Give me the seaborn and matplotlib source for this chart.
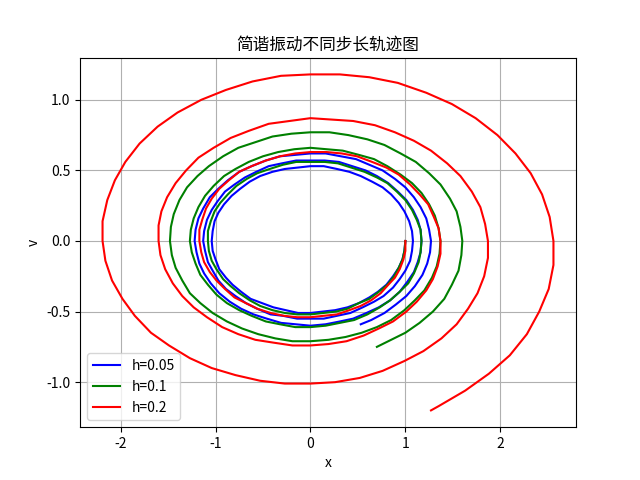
import matplotlib
matplotlib.use("Agg")
import matplotlib.pyplot as plt
import seaborn as sns

# phase-space trajectories (x, v), one point every ~7.5 degrees,
# one source line per half turn
blue_x = [1.00, 0.99, 0.97, 0.93, 0.87, 0.80, 0.71, 0.62, 0.51, 0.39, 0.26, 0.13, 0.00, -0.13, -0.26, -0.39, -0.51, -0.63, -0.73, -0.82, -0.89, -0.96, -1.00, -1.03,
          -1.04, -1.03, -1.01, -0.97, -0.91, -0.83, -0.74, -0.64, -0.53, -0.40, -0.27, -0.14, 0.00, 0.14, 0.28, 0.41, 0.53, 0.65, 0.76, 0.85, 0.93, 0.99, 1.04, 1.07,
          1.08, 1.07, 1.05, 1.00, 0.94, 0.87, 0.77, 0.67, 0.55, 0.42, 0.28, 0.14, 0.00, -0.14, -0.29, -0.42, -0.56, -0.68, -0.79, -0.89, -0.97, -1.03, -1.08, -1.11,
          -1.13, -1.12, -1.09, -1.04, -0.98, -0.90, -0.80, -0.69, -0.57, -0.44, -0.30, -0.15, 0.00, 0.15, 0.30, 0.44, 0.58, 0.70, 0.82, 0.92, 1.01, 1.08, 1.13, 1.16,
          1.17, 1.16, 1.13, 1.09, 1.02, 0.94, 0.84, 0.72, 0.59, 0.45, 0.31, 0.16, 0.00, -0.16, -0.31, -0.46, -0.60, -0.73, -0.85, -0.96, -1.05, -1.12, -1.17, -1.20,
          -1.22, -1.21, -1.18, -1.13, -1.06, -0.97, -0.87, -0.75, -0.62, -0.47, -0.32, -0.16, 0.00, 0.16, 0.32, 0.48, 0.62, 0.76, 0.89, 1.00, 1.09, 1.16, 1.22, 1.25,
          1.27, 1.26, 1.23, 1.18, 1.10, 1.01, 0.90, 0.78, 0.64, 0.53]
blue_v = [0.00, -0.07, -0.13, -0.19, -0.25, -0.31, -0.36, -0.40, -0.44, -0.47, -0.49, -0.50, -0.51, -0.51, -0.49, -0.47, -0.44, -0.41, -0.36, -0.31, -0.26, -0.20, -0.13, -0.07,
          0.00, 0.07, 0.14, 0.20, 0.26, 0.32, 0.37, 0.42, 0.46, 0.49, 0.51, 0.52, 0.53, 0.53, 0.51, 0.49, 0.46, 0.42, 0.38, 0.33, 0.27, 0.21, 0.14, 0.07,
          0.00, -0.07, -0.14, -0.21, -0.27, -0.33, -0.39, -0.43, -0.47, -0.51, -0.53, -0.55, -0.55, -0.55, -0.53, -0.52, -0.48, -0.44, -0.39, -0.34, -0.28, -0.21, -0.15, -0.07,
          0.00, 0.07, 0.15, 0.22, 0.28, 0.35, 0.40, 0.45, 0.49, 0.53, 0.55, 0.57, 0.57, 0.57, 0.56, 0.53, 0.50, 0.46, 0.41, 0.35, 0.29, 0.22, 0.15, 0.08,
          0.00, -0.08, -0.15, -0.22, -0.29, -0.36, -0.42, -0.47, -0.51, -0.55, -0.57, -0.59, -0.60, -0.59, -0.58, -0.55, -0.52, -0.48, -0.43, -0.37, -0.30, -0.23, -0.16, -0.08,
          0.00, 0.08, 0.16, 0.23, 0.31, 0.37, 0.43, 0.49, 0.53, 0.57, 0.60, 0.61, 0.62, 0.62, 0.60, 0.58, 0.54, 0.50, 0.44, 0.38, 0.31, 0.24, 0.16, 0.08,
          0.00, -0.08, -0.16, -0.24, -0.32, -0.39, -0.45, -0.51, -0.56, -0.59]

green_x = [1.00, 0.99, 0.97, 0.93, 0.88, 0.81, 0.72, 0.62, 0.51, 0.39, 0.27, 0.14, 0.00, -0.14, -0.27, -0.40, -0.53, -0.64, -0.75, -0.84, -0.92, -0.99, -1.04, -1.07,
           -1.08, -1.08, -1.05, -1.01, -0.95, -0.87, -0.78, -0.67, -0.56, -0.43, -0.29, -0.15, 0.00, 0.15, 0.29, 0.43, 0.57, 0.70, 0.81, 0.91, 1.00, 1.07, 1.12, 1.16,
           1.17, 1.16, 1.14, 1.09, 1.03, 0.94, 0.84, 0.73, 0.60, 0.46, 0.31, 0.16, 0.00, -0.16, -0.32, -0.47, -0.62, -0.75, -0.88, -0.99, -1.08, -1.16, -1.21, -1.25,
           -1.27, -1.26, -1.23, -1.18, -1.11, -1.02, -0.91, -0.79, -0.65, -0.50, -0.34, -0.17, 0.00, 0.17, 0.34, 0.51, 0.67, 0.81, 0.95, 1.07, 1.17, 1.25, 1.31, 1.35,
           1.37, 1.36, 1.33, 1.28, 1.20, 1.10, 0.99, 0.85, 0.70, 0.54, 0.37, 0.19, 0.00, -0.19, -0.37, -0.55, -0.72, -0.88, -1.03, -1.16, -1.27, -1.35, -1.42, -1.46,
           -1.48, -1.47, -1.44, -1.38, -1.30, -1.19, -1.07, -0.92, -0.76, -0.58, -0.40, -0.20, 0.00, 0.20, 0.40, 0.60, 0.78, 0.95, 1.11, 1.25, 1.37, 1.47, 1.54, 1.58,
           1.60, 1.59, 1.56, 1.49, 1.41, 1.29, 1.15, 1.00, 0.82, 0.70]
green_v = [0.00, -0.07, -0.13, -0.19, -0.25, -0.31, -0.36, -0.41, -0.44, -0.48, -0.50, -0.51, -0.52, -0.52, -0.51, -0.49, -0.46, -0.42, -0.37, -0.32, -0.27, -0.20, -0.14, -0.07,
           0.00, 0.07, 0.14, 0.21, 0.27, 0.33, 0.39, 0.44, 0.48, 0.51, 0.54, 0.56, 0.56, 0.56, 0.55, 0.52, 0.49, 0.45, 0.41, 0.35, 0.29, 0.22, 0.15, 0.08,
           0.00, -0.08, -0.15, -0.23, -0.30, -0.36, -0.42, -0.47, -0.52, -0.56, -0.58, -0.60, -0.61, -0.61, -0.59, -0.57, -0.53, -0.49, -0.44, -0.38, -0.31, -0.24, -0.16, -0.08,
           0.00, 0.08, 0.16, 0.24, 0.32, 0.39, 0.46, 0.51, 0.56, 0.60, 0.63, 0.65, 0.66, 0.65, 0.64, 0.61, 0.58, 0.53, 0.47, 0.41, 0.34, 0.26, 0.18, 0.09,
           0.00, -0.09, -0.18, -0.26, -0.35, -0.42, -0.49, -0.56, -0.61, -0.65, -0.68, -0.70, -0.71, -0.71, -0.69, -0.66, -0.62, -0.57, -0.51, -0.44, -0.37, -0.28, -0.19, -0.10,
           0.00, 0.10, 0.19, 0.29, 0.38, 0.46, 0.53, 0.60, 0.66, 0.70, 0.74, 0.76, 0.77, 0.77, 0.75, 0.72, 0.68, 0.62, 0.56, 0.48, 0.40, 0.30, 0.21, 0.10,
           0.00, -0.10, -0.21, -0.31, -0.41, -0.50, -0.58, -0.65, -0.71, -0.75]

red_x = [1.00, 1.00, 0.98, 0.94, 0.89, 0.82, 0.74, 0.64, 0.53, 0.41, 0.28, 0.14, 0.00, -0.14, -0.28, -0.42, -0.56, -0.68, -0.80, -0.90, -0.99, -1.06, -1.12, -1.15,
         -1.17, -1.17, -1.14, -1.10, -1.04, -0.96, -0.86, -0.75, -0.62, -0.47, -0.32, -0.16, 0.00, 0.17, 0.33, 0.49, 0.65, 0.80, 0.93, 1.05, 1.15, 1.24, 1.30, 1.35,
         1.37, 1.37, 1.34, 1.29, 1.22, 1.12, 1.01, 0.87, 0.72, 0.56, 0.38, 0.19, 0.00, -0.19, -0.39, -0.58, -0.76, -0.93, -1.09, -1.23, -1.35, -1.45, -1.53, -1.58,
         -1.60, -1.60, -1.57, -1.51, -1.42, -1.31, -1.18, -1.02, -0.84, -0.65, -0.44, -0.22, 0.00, 0.23, 0.45, 0.68, 0.89, 1.09, 1.27, 1.44, 1.58, 1.70, 1.79, 1.84,
         1.87, 1.87, 1.83, 1.76, 1.66, 1.54, 1.38, 1.19, 0.99, 0.76, 0.52, 0.26, 0.00, -0.27, -0.53, -0.79, -1.04, -1.27, -1.49, -1.68, -1.85, -1.98, -2.09, -2.16,
         -2.19, -2.19, -2.14, -2.06, -1.95, -1.80, -1.61, -1.40, -1.15, -0.89, -0.61, -0.31, 0.00, 0.31, 0.62, 0.92, 1.22, 1.49, 1.74, 1.97, 2.16, 2.32, 2.44, 2.52,
         2.56, 2.56, 2.51, 2.41, 2.28, 2.10, 1.88, 1.63, 1.35, 1.27]
red_v = [0.00, -0.07, -0.13, -0.20, -0.26, -0.31, -0.37, -0.42, -0.46, -0.49, -0.52, -0.53, -0.54, -0.54, -0.53, -0.51, -0.48, -0.44, -0.40, -0.34, -0.28, -0.22, -0.15, -0.08,
         0.00, 0.08, 0.15, 0.23, 0.30, 0.37, 0.43, 0.49, 0.53, 0.57, 0.60, 0.62, 0.63, 0.63, 0.62, 0.60, 0.56, 0.52, 0.47, 0.40, 0.33, 0.26, 0.17, 0.09,
         0.00, -0.09, -0.18, -0.27, -0.35, -0.43, -0.50, -0.57, -0.62, -0.67, -0.71, -0.73, -0.74, -0.74, -0.72, -0.70, -0.66, -0.61, -0.54, -0.47, -0.39, -0.30, -0.20, -0.10,
         0.00, 0.11, 0.21, 0.31, 0.41, 0.50, 0.59, 0.66, 0.73, 0.78, 0.83, 0.85, 0.87, 0.86, 0.85, 0.82, 0.77, 0.71, 0.64, 0.55, 0.46, 0.35, 0.24, 0.12,
         0.00, -0.12, -0.25, -0.37, -0.48, -0.59, -0.69, -0.78, -0.85, -0.92, -0.97, -1.00, -1.01, -1.01, -0.99, -0.95, -0.90, -0.83, -0.74, -0.65, -0.53, -0.41, -0.28, -0.14,
         0.00, 0.14, 0.29, 0.43, 0.56, 0.69, 0.81, 0.91, 1.00, 1.07, 1.13, 1.17, 1.18, 1.18, 1.16, 1.12, 1.05, 0.97, 0.87, 0.75, 0.62, 0.48, 0.33, 0.17,
         0.00, -0.17, -0.34, -0.50, -0.66, -0.81, -0.94, -1.06, -1.17, -1.20]

labels = ["h=0.05", "h=0.1", "h=0.2"]
colors = ["blue", "green", "red"]

plt.rcParams['font.family'] = ['Noto Sans CJK SC', 'DejaVu Sans']
plt.rcParams['axes.unicode_minus'] = False

fig, ax = plt.subplots(figsize=(6.4, 4.8), dpi=100)
for xs, vs, lab, col in zip([blue_x, green_x, red_x], [blue_v, green_v, red_v], labels, colors):
    sns.lineplot(x=xs, y=vs, sort=False, estimator=None, color=col, label=lab, ax=ax)

ax.set_title("简谐振动不同步长轨迹图")
ax.set_xlabel("x")
ax.set_ylabel("v")
ax.grid(True)
ax.legend(loc="lower left")
fig.savefig("out.png")
